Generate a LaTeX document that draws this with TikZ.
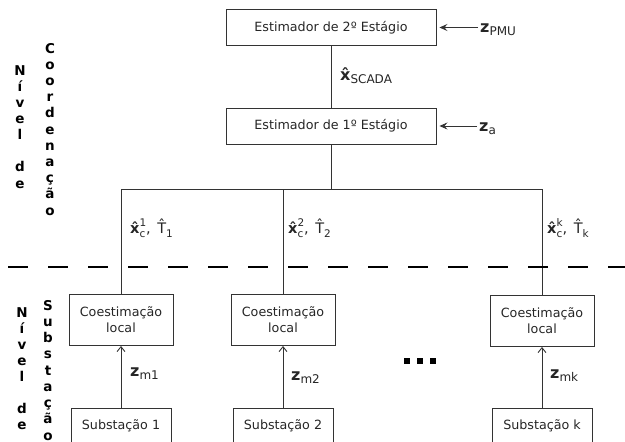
\documentclass[tikz,border=0pt]{standalone}
\usepackage{fontspec}
\setmainfont{DejaVu Sans}
\usetikzlibrary{arrows.meta}

% a circumflex hat centred over a letter
\newcommand\hatted[1]{\leavevmode\setbox0\hbox{#1}%
  \rlap{\hbox to\wd0{\hss\raisebox{\dimexpr\ht0-\fontcharht\font`x\relax}{\char"02C6}\hss}}\box0}
\newcommand\lowidx[1]{\raisebox{-0.45ex}{\fontsize{12}{12}\selectfont #1}}
\newcommand\smallidx[1]{\fontsize{10.5}{10.5}\selectfont #1}
% index pair: superscript over subscript
\newcommand\idxpair[2]{\setbox2\hbox{\smallidx{#1}}\setbox4\hbox{\smallidx{#2}}%
  \ifdim\wd2>\wd4 \dimen0=\wd2 \else \dimen0=\wd4 \fi
  \hbox to\dimen0{\rlap{\raisebox{0.8ex}{\box2}}\raisebox{-0.55ex}{\box4}\hss}}
\newcommand\xc[1]{{\bfseries\hatted{x}}\idxpair{#1}{c}}
\newcommand\tk[1]{\hatted{T}\raisebox{-0.55ex}{\smallidx{#1}}}

\begin{document}
\begin{tikzpicture}[x=1pt,y=-1pt,
  line/.style={draw=black!80, line width=0.9pt},
  estbox/.style={line, minimum width=210pt, minimum height=36pt, inner sep=0pt,
    font=\fontsize{12.7}{16}\selectfont, text=black!85},
  cobox/.style={line, minimum width=104pt, minimum height=51pt, inner sep=0pt,
    align=center, font=\fontsize{12.7}{16}\selectfont, text=black!85},
  subbox/.style={line, minimum width=100pt, minimum height=36pt, inner sep=0pt,
    font=\fontsize{12.7}{16}\selectfont, text=black!85},
  lbl/.style={anchor=base west, inner sep=2pt, font=\fontsize{16}{16}\selectfont, text=black!85},
  pairlbl/.style={anchor=base west, inner sep=1pt, font=\fontsize{14.5}{14.5}\selectfont, text=black!85},
  side/.style={anchor=base, inner sep=0pt, font=\fontsize{13.5}{13.5}\selectfont\bfseries},
  inarrow/.style={line, -{Stealth[length=8pt,width=7pt,inset=3pt]}, shorten >=3pt},
  uparrow/.style={line, -{Straight Barb[length=5pt,width=8pt]}},
  separator/.style={line width=1.8pt, dash pattern=on 20pt off 20pt}
]
\useasboundingbox (0,0) rectangle (625,442);

% coordination level
\node[estbox] (est2) at (331,27.5) {Estimador de 2º Estágio};
\node[estbox] (est1) at (331,126) {Estimador de 1º Estágio};

\node[lbl] (zpmu) at (478,32) {\textbf{z}\lowidx{PMU}};
\node[lbl] (za)   at (477,131) {\textbf{z}\lowidx{a}};
\node[lbl] (xscada) at (338,80) {\textbf{\hatted{x}}\lowidx{SCADA}};

\draw[inarrow] (zpmu.west |- est2.east) -- (est2.east);
\draw[inarrow] (za.west |- est1.east) -- (est1.east);
\draw[line] (est2) -- (est1);

% substation level
\node[cobox] (co1) at (121,320) {Coestimação\\local};
\node[cobox] (co2) at (283,320) {Coestimação\\local};
\node[cobox] (cok) at (542,321) {Coestimação\\local};

\node[subbox] (sub1) at (121,426) {Substação 1};
\node[subbox] (sub2) at (283,426) {Substação 2};
\node[subbox] (subk) at (542,426) {Substação k};

\draw[uparrow] (sub1) -- (co1);
\draw[uparrow] (sub2) -- (co2);
\draw[uparrow] (subk) -- (cok);

\node[lbl] (zm1) at (128,376) {\textbf{z}\lowidx{m1}};
\node[lbl] (zm2) at (289,380) {\textbf{z}\lowidx{m2}};
\node[lbl] (zmk) at (548,378) {\textbf{z}\lowidx{mk}};

% bus joining the local estimators to the first stage
\coordinate (bus) at (331,189);
\draw[line] (co1.north) -- (co1.north |- bus) -- (cok.north |- bus) -- (cok.north);
\draw[line] (co2.north) -- (co2.north |- bus);
\draw[line] (est1.south) -- (bus);

\node[pairlbl] (x1) at (129,233) {\xc{1},\hspace{0.45em}\tk{1}};
\node[pairlbl] (x2) at (287,233) {\xc{2},\hspace{0.45em}\tk{2}};
\node[pairlbl] (xk) at (546,233) {\xc{k},\hspace{0.45em}\tk{k}};

% ellipsis between substations
\foreach \d in {407,420,433}
  \fill[black] (\d-3,358) rectangle (\d+3,364);

% level separator
\coordinate (sepL) at (8,267);
\coordinate (sepR) at (625,267);
\draw[separator] (sepL) -- (sepR);

% level captions, one letter per line
\foreach \ch [count=\i] in {N,í,v,e,l,{},d,e}
  \node[side] (ncoord-\i) at (20,{75+16.15*(\i-1)}) {\ch};
\foreach \ch [count=\i] in {C,o,o,r,d,e,n,a,ç,ã,o}
  \node[side] (coord-\i) at (50,{53+16.2*(\i-1)}) {\ch};
\foreach \ch [count=\i] in {N,í,v,e,l,{},d,e}
  \node[side] (nsub-\i) at (22,{317+16.1*(\i-1)}) {\ch};
\foreach \ch [count=\i] in {S,u,b,s,t,a,ç,ã,o}
  \node[side] (subst-\i) at (48,{310+16.25*(\i-1)}) {\ch};
\end{tikzpicture}
\end{document}
